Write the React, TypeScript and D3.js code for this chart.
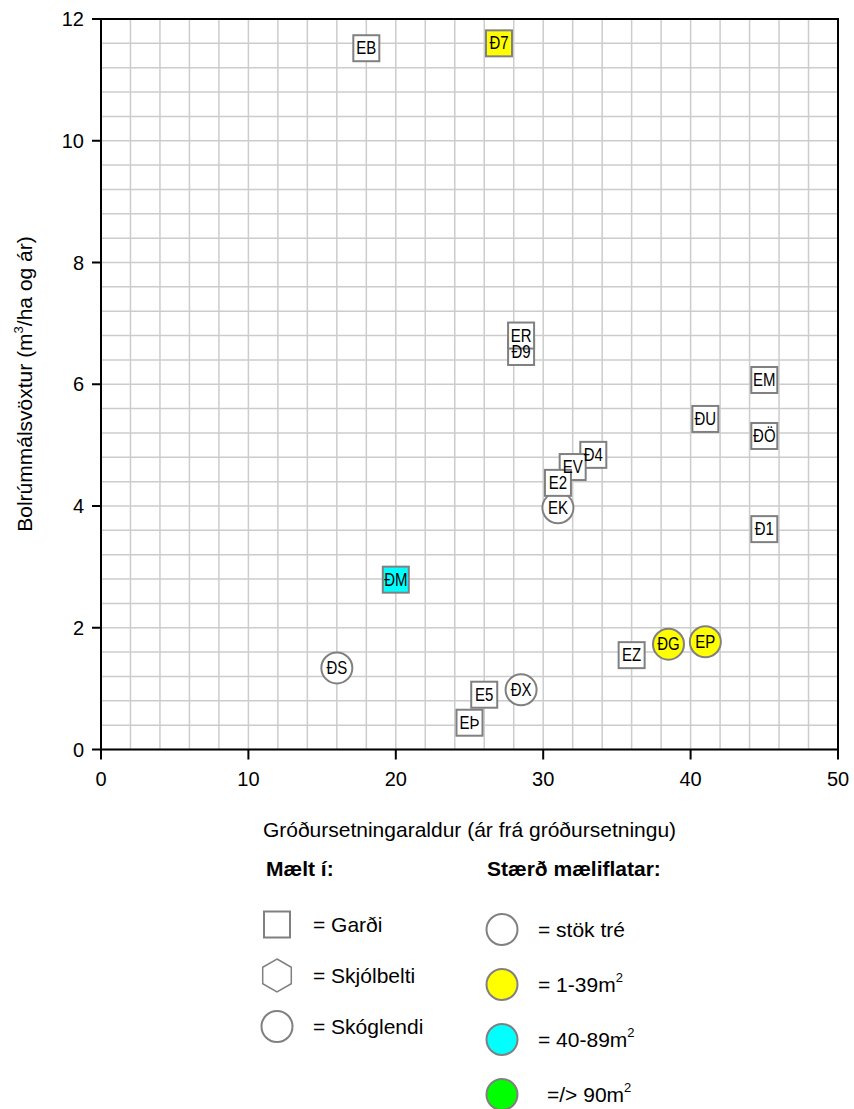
import React from 'react';
import * as d3 from 'd3';

// Reitir (labels), aldur (x) og vöxtur (y)
const labels = ['EB', 'Ð7', 'Ð9', 'ER', 'EM', 'ÐU', 'ÐÖ', 'Ð4', 'EV', 'EK', 'E2', 'Ð1', 'ÐM', 'ÐS', 'E5', 'EÞ', 'ÐX', 'EZ', 'ÐG', 'EP'];
const ages = [18, 27, 28.5, 28.5, 45, 41, 45, 33.4, 32, 31, 31, 45, 20, 16, 26, 25, 28.5, 36, 38.5, 41];
const growth = [11.52, 11.6, 6.53, 6.8, 6.07, 5.43, 5.15, 4.84, 4.64, 3.97, 4.38, 3.62, 2.79, 1.34, 0.9, 0.44, 0.98, 1.55, 1.73, 1.77];
const sites = ['garden', 'garden', 'garden', 'garden', 'garden', 'garden', 'garden', 'garden', 'garden', 'forest', 'garden', 'garden', 'garden', 'forest', 'garden', 'garden', 'forest', 'garden', 'forest', 'forest'];
const plotSizes = ['single', 'small', 'single', 'single', 'single', 'single', 'single', 'single', 'single', 'single', 'single', 'single', 'medium', 'single', 'single', 'single', 'single', 'single', 'small', 'small'];

const xTicks = [0, 10, 20, 30, 40, 50];
const yTicks = [0, 2, 4, 6, 8, 10, 12];

const siteLegend = ['Garði', 'Skjólbelti', 'Skóglendi'];
const siteLegendShapes = ['garden', 'shelterbelt', 'forest'];
const sizeLegend = ['stök tré', '1-39m', '40-89m', '/> 90m'];
const sizeLegendKeys = ['single', 'small', 'medium', 'large'];

const fillColors: Record<string, string> = {
    single: '#ffffff',
    small: '#ffff00',
    medium: '#00ffff',
    large: '#00ff00'
};

const FONT = '"Liberation Sans", Arial, sans-serif';
const STROKE = '#808080';

const Marker = ({ shape, x, y, fill }: { shape: string; x: number; y: number; fill: string }) => {
    if (shape === 'garden') {
        return <rect x={x - 13} y={y - 13} width={26} height={26} fill={fill} stroke={STROKE} strokeWidth={2} />;
    }
    if (shape === 'shelterbelt') {
        const r = 16.5;
        const pts = d3.range(6).map(i => {
            const a = (Math.PI / 3) * i - Math.PI / 2;
            return [x + r * Math.cos(a), y + r * Math.sin(a)];
        });
        return <polygon points={pts.map(p => p.join(',')).join(' ')} fill={fill} stroke={STROKE} strokeWidth={1.5} />;
    }
    return <circle cx={x} cy={y} r={15.5} fill={fill} stroke={STROKE} strokeWidth={2} />;
};

const App = () => {
    const width = 854;
    const height = 1109;
    const left = 101;
    const right = 838;
    const top = 19;
    const bottom = 749.5;

    const x = d3.scaleLinear().domain([0, 50]).range([left, right]);
    const y = d3.scaleLinear().domain([0, 12]).range([bottom, top]);

    const xGrid = d3.range(0, 50.001, 2);
    const yGrid = d3.range(0, 12.001, 0.4);

    const points = labels.map((label, i) => ({
        label,
        age: ages[i],
        value: growth[i],
        site: sites[i],
        size: plotSizes[i]
    }));

    return (
        <svg width={width} height={height} style={{ position: 'absolute', left: 0, top: 0, background: '#fff' }} fontFamily={FONT}>
            {/* grid */}
            <g stroke="#cccccc" strokeWidth={1.5}>
                {xGrid.map(v => (
                    <line key={'gx' + v} x1={x(v)} x2={x(v)} y1={top} y2={bottom} />
                ))}
                {yGrid.map(v => (
                    <line key={'gy' + v} x1={left} x2={right} y1={y(v)} y2={y(v)} />
                ))}
            </g>

            {/* frame */}
            <rect x={left} y={top} width={right - left} height={bottom - top} fill="none" stroke="#000" strokeWidth={2} />

            {/* y axis */}
            {yTicks.map(v => (
                <g key={'yt' + v}>
                    <line x1={left - 9} x2={left} y1={y(v)} y2={y(v)} stroke="#000" strokeWidth={2} />
                    <text x={84} y={y(v)} textAnchor="end" dominantBaseline="central" fontSize={20}>{v}</text>
                </g>
            ))}

            {/* x axis */}
            {xTicks.map(v => (
                <g key={'xt' + v}>
                    <line x1={x(v)} x2={x(v)} y1={bottom} y2={bottom + 10} stroke="#000" strokeWidth={2} />
                    <text x={x(v)} y={786} textAnchor="middle" fontSize={20}>{v}</text>
                </g>
            ))}

            {/* axis titles */}
            <text transform={`translate(32, 384) rotate(-90)`} textAnchor="middle" fontSize={21}>
                Bolrúmmálsvöxtur (m<tspan fontSize={13} dy={-9}>3</tspan><tspan dy={9}>/ha og ár)</tspan>
            </text>
            <text x={(left + right) / 2} y={837} textAnchor="middle" fontSize={21}>
                Gróðursetningaraldur (ár frá gróðursetningu)
            </text>

            {/* markers */}
            {points.map(p => (
                <Marker key={'m' + p.label} shape={p.site} x={x(p.age)} y={y(p.value)} fill={fillColors[p.size]} />
            ))}
            {points.map(p => (
                <text
                    key={'l' + p.label}
                    transform={`translate(${x(p.age)}, ${y(p.value)}) scale(1, 1.2)`}
                    textAnchor="middle"
                    dominantBaseline="central"
                    fontSize={15}
                >
                    {p.label}
                </text>
            ))}

            {/* legend: Mælt í */}
            <text x={266} y={876} fontSize={21} fontWeight="bold">Mælt í:</text>
            {siteLegend.map((s, i) => {
                const cy = 924.5 + i * 51;
                return (
                    <g key={'sl' + s}>
                        <Marker shape={siteLegendShapes[i]} x={277} y={cy} fill="#fff" />
                        <text x={313} y={cy + 7} fontSize={21}>= {s}</text>
                    </g>
                );
            })}

            {/* legend: Stærð mæliflatar */}
            <text x={487} y={876} fontSize={21} fontWeight="bold">Stærð mæliflatar:</text>
            {sizeLegend.map((s, i) => {
                const cy = 929.5 + i * 55;
                return (
                    <g key={'zl' + s}>
                        <circle cx={502} cy={cy} r={15.5} fill={fillColors[sizeLegendKeys[i]]} stroke={STROKE} strokeWidth={2} />
                        <text x={i === 3 ? 547 : 538} y={cy + 7} fontSize={21}>
                            ={i === 3 ? '' : ' '}{s}
                            {i > 0 && <tspan fontSize={13} dy={-10}>2</tspan>}
                        </text>
                    </g>
                );
            })}
        </svg>
    );
};

export default App;
